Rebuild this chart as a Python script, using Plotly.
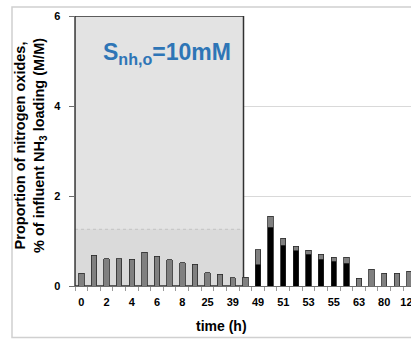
import plotly.graph_objects as go

# ---- data ----
categories = ["0", "1", "2", "3", "4", "5", "6", "7", "8", "24", "25", "26", "39", "48",
              "49", "50", "51", "52", "53", "54", "55", "56", "63", "72", "80", "100", "120"]
black_vals = [None] * 14 + [0.47, 1.31, 0.91, 0.78, 0.71, 0.60, 0.55, 0.51] + [None] * 5
gray_vals = [0.28, 0.68, 0.61, 0.61, 0.60, 0.75, 0.66, 0.58, 0.52, 0.48, 0.30, 0.26, 0.18, 0.19,
             0.34, 0.24, 0.15, 0.10, 0.09, 0.11, 0.09, 0.13,
             0.17, 0.37, 0.28, 0.28, 0.33]
y_ticks = [0, 2, 4, 6]
label_text = "S<sub>nh,o</sub>=10mM"
shaded_last_index = 12.85
shade_band_top = 1.26

x_idx = list(range(len(categories)))
FONT = "Liberation Sans, Arial, sans-serif"

W, H = 411, 339
PL, PT, PB = 75, 16, 53          # plot area in figure pixels
PW = W - PL                      # 336
PH = H - PT - PB                 # 270


def px_x(sx):  # screen x -> paper x
    return (sx - PL) / PW


def px_y(sy):  # screen y -> paper y
    return (PT + PH - sy) / PH


fig = go.Figure()
fig.add_trace(go.Bar(x=x_idx, y=black_vals, marker=dict(color="#000000", line=dict(color="#222222", width=0.8)),
                     showlegend=False))
fig.add_trace(go.Bar(x=x_idx, y=gray_vals, marker=dict(color="#808080", line=dict(color="#2a2a2a", width=0.8)),
                     showlegend=False))

fig.update_layout(
    width=W, height=H,
    margin=dict(l=PL, r=0, t=PT, b=PB, pad=0, autoexpand=False),
    barmode="stack", bargap=0.57,
    paper_bgcolor="white", plot_bgcolor="white",
    font=dict(family=FONT, color="#000000"),
    hovermode=False,
    xaxis=dict(
        range=[-0.5, 26.12], automargin=False,
        tickmode="array", tickvals=x_idx[::2], ticktext=categories[::2],
        ticks="", showgrid=False, zeroline=False,
        showline=True, linecolor="#6e6e6e", linewidth=1,
        tickfont=dict(size=11, family=FONT, weight="bold"),
        ticklabelstandoff=6, ticklabeloverflow="allow",
        minor=dict(tick0=0.5, dtick=1, ticks="outside", ticklen=4, tickcolor="#9a9a9a", tickwidth=1, showgrid=False),
    ),
    yaxis=dict(
        range=[0, 6], automargin=False, tickmode="array", tickvals=y_ticks,
        ticks="outside", ticklen=5, tickcolor="#6e6e6e",
        showgrid=True, gridcolor="#d9d9d9", gridwidth=1, zeroline=False,
        showline=True, linecolor="#6e6e6e", linewidth=1.5,
        tickfont=dict(size=11, family=FONT, weight="bold"),
        ticklabelstandoff=6,
    ),
    shapes=[
        dict(type="rect", xref="x", yref="y", x0=-0.5, x1=shaded_last_index, y0=0, y1=6,
             fillcolor="#e3e3e3", line=dict(width=0), layer="between"),
        dict(type="rect", xref="x", yref="y", x0=-0.5, x1=shaded_last_index, y0=0, y1=shade_band_top,
             fillcolor="#dadada", line=dict(width=0), layer="between"),
        dict(type="line", xref="x", yref="y", x0=-0.5, x1=shaded_last_index, y0=shade_band_top, y1=shade_band_top,
             line=dict(color="#c4c4c4", width=1, dash="dot"), layer="between"),
        dict(type="rect", xref="x", yref="y", x0=-0.5, x1=shaded_last_index, y0=0, y1=6,
             fillcolor="rgba(0,0,0,0)", line=dict(color="#303030", width=1.5), layer="between"),
        dict(type="rect", xref="paper", yref="paper", x0=px_x(12), x1=px_x(440), y0=px_y(337.5), y1=px_y(7),
             fillcolor="rgba(0,0,0,0)", line=dict(color="#d0d0d0", width=1.5), layer="below"),
    ],
    annotations=[
        dict(text=label_text, xref="paper", yref="paper", x=px_x(167), y=px_y(54), showarrow=False,
             xanchor="center", yanchor="middle",
             font=dict(size=23, family=FONT, color="#2E75B6", weight="bold")),
        dict(text="Proportion of nitrogen oxides,<br>% of influent NH<sub>3</sub> loading (M/M)",
             xref="paper", yref="paper", x=px_x(30), y=px_y(146), textangle=-90,
             showarrow=False, xanchor="center", yanchor="middle",
             font=dict(size=14.5, family=FONT, weight="bold")),
        dict(text="time (h)", xref="paper", yref="paper", x=px_x(221), y=px_y(326),
             showarrow=False, xanchor="center", yanchor="middle",
             font=dict(size=14, family=FONT, weight="bold")),
    ],
)

fig.write_html(
    "out.html",
    config={"displayModeBar": False, "staticPlot": True},
    post_script="document.body.style.margin='0';document.documentElement.style.overflow='hidden';"
                "document.body.style.overflow='hidden';",
)
